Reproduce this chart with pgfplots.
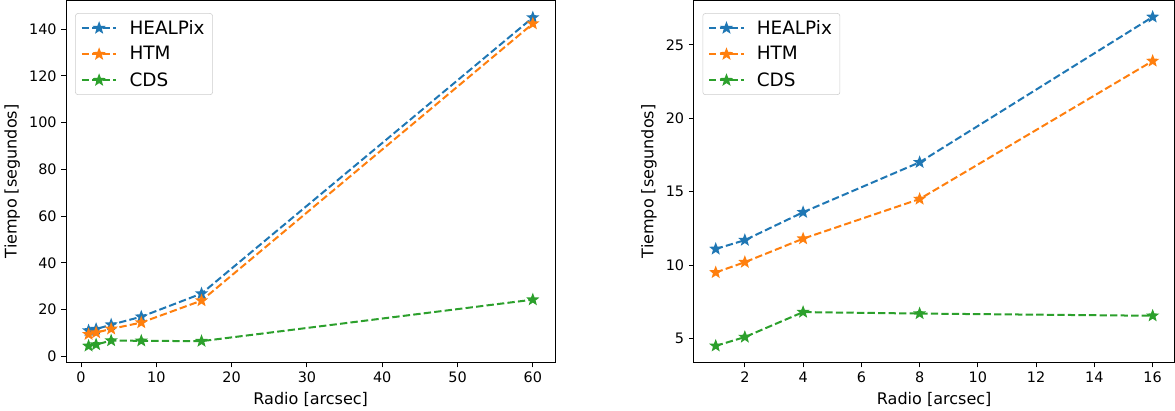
\documentclass[border=0pt]{standalone}
\usepackage{fontspec}
\setmainfont{DejaVu Sans}
\usepackage{pgfplots}
\pgfplotsset{compat=1.18}

\definecolor{tabblue}{HTML}{1F77B4}
\definecolor{taborange}{HTML}{FF7F0E}
\definecolor{tabgreen}{HTML}{2CA02C}

% filled five-pointed star
\pgfdeclareplotmark{fstar}{%
  \pgfpathmoveto{\pgfpointpolar{90}{\pgfplotmarksize}}%
  \pgfpathlineto{\pgfpointpolar{126}{0.42\pgfplotmarksize}}%
  \pgfpathlineto{\pgfpointpolar{162}{\pgfplotmarksize}}%
  \pgfpathlineto{\pgfpointpolar{198}{0.42\pgfplotmarksize}}%
  \pgfpathlineto{\pgfpointpolar{234}{\pgfplotmarksize}}%
  \pgfpathlineto{\pgfpointpolar{270}{0.42\pgfplotmarksize}}%
  \pgfpathlineto{\pgfpointpolar{306}{\pgfplotmarksize}}%
  \pgfpathlineto{\pgfpointpolar{342}{0.42\pgfplotmarksize}}%
  \pgfpathlineto{\pgfpointpolar{18}{\pgfplotmarksize}}%
  \pgfpathlineto{\pgfpointpolar{54}{0.42\pgfplotmarksize}}%
  \pgfpathclose
  \pgfusepathqfill
}

\pgfplotsset{
  mplstyle/.style={
    scale only axis,
    width=366pt, height=271pt,
    axis line style={line width=0.75pt},
    tick style={black, line width=0.75pt},
    tick align=outside,
    major tick length=3.75pt,
    xtick pos=bottom, ytick pos=left,
    tick label style={font=\fontsize{10.8}{12}\selectfont},
    label style={font=\fontsize{12}{14}\selectfont},
    /pgf/number format/assume math mode=true,
    xlabel={Radio [arcsec]},
    ylabel={Tiempo [segundos]},
    legend style={at={(0.018,0.965)}, anchor=north west,
      draw=black!20, rounded corners=2pt, fill=white,
      font=\fontsize{13.8}{16}\selectfont,
      row sep=3.8pt, column sep=7pt, inner xsep=4pt, inner ysep=3pt},
    legend cell align=left,
    legend image code/.code={%
      \draw[mark repeat=2,mark phase=2] plot coordinates {(0pt,0pt)(13pt,0pt)(26pt,0pt)};},
    every axis plot/.append style={line width=1.5pt, dash pattern=on 5.5pt off 2.4pt,
      mark=fstar, mark size=5.2pt, mark options={solid}},
  }
}

\begin{document}
\begin{tikzpicture}
\begin{axis}[mplstyle,
  xmin=-1.95, xmax=62.95, ymin=-2.5, ymax=152.3,
  xtick={0,10,20,30,40,50,60}, ytick={0,20,40,60,80,100,120,140}]
\addplot[color=tabblue] coordinates {(1,11.1)(2,11.7)(4,13.6)(8,17.0)(16,26.9)(60,145.0)};
\addlegendentry{HEALPix}
\addplot[color=taborange] coordinates {(1,9.5)(2,10.2)(4,11.8)(8,14.5)(16,23.9)(60,142.4)};
\addlegendentry{HTM}
\addplot[color=tabgreen] coordinates {(1,4.5)(2,5.1)(4,6.8)(8,6.7)(16,6.55)(60,24.3)};
\addlegendentry{CDS}
\end{axis}

\begin{axis}[mplstyle, at={(470pt,0pt)}, width=360pt,
  xmin=0.25, xmax=16.75, ymin=3.38, ymax=28.02,
  xtick={2,4,6,8,10,12,14,16}, ytick={5,10,15,20,25}]
\addplot[color=tabblue] coordinates {(1,11.1)(2,11.7)(4,13.6)(8,17.0)(16,26.9)};
\addlegendentry{HEALPix}
\addplot[color=taborange] coordinates {(1,9.5)(2,10.2)(4,11.8)(8,14.5)(16,23.9)};
\addlegendentry{HTM}
\addplot[color=tabgreen] coordinates {(1,4.5)(2,5.1)(4,6.8)(8,6.7)(16,6.55)};
\addlegendentry{CDS}
\end{axis}
\end{tikzpicture}
\end{document}
